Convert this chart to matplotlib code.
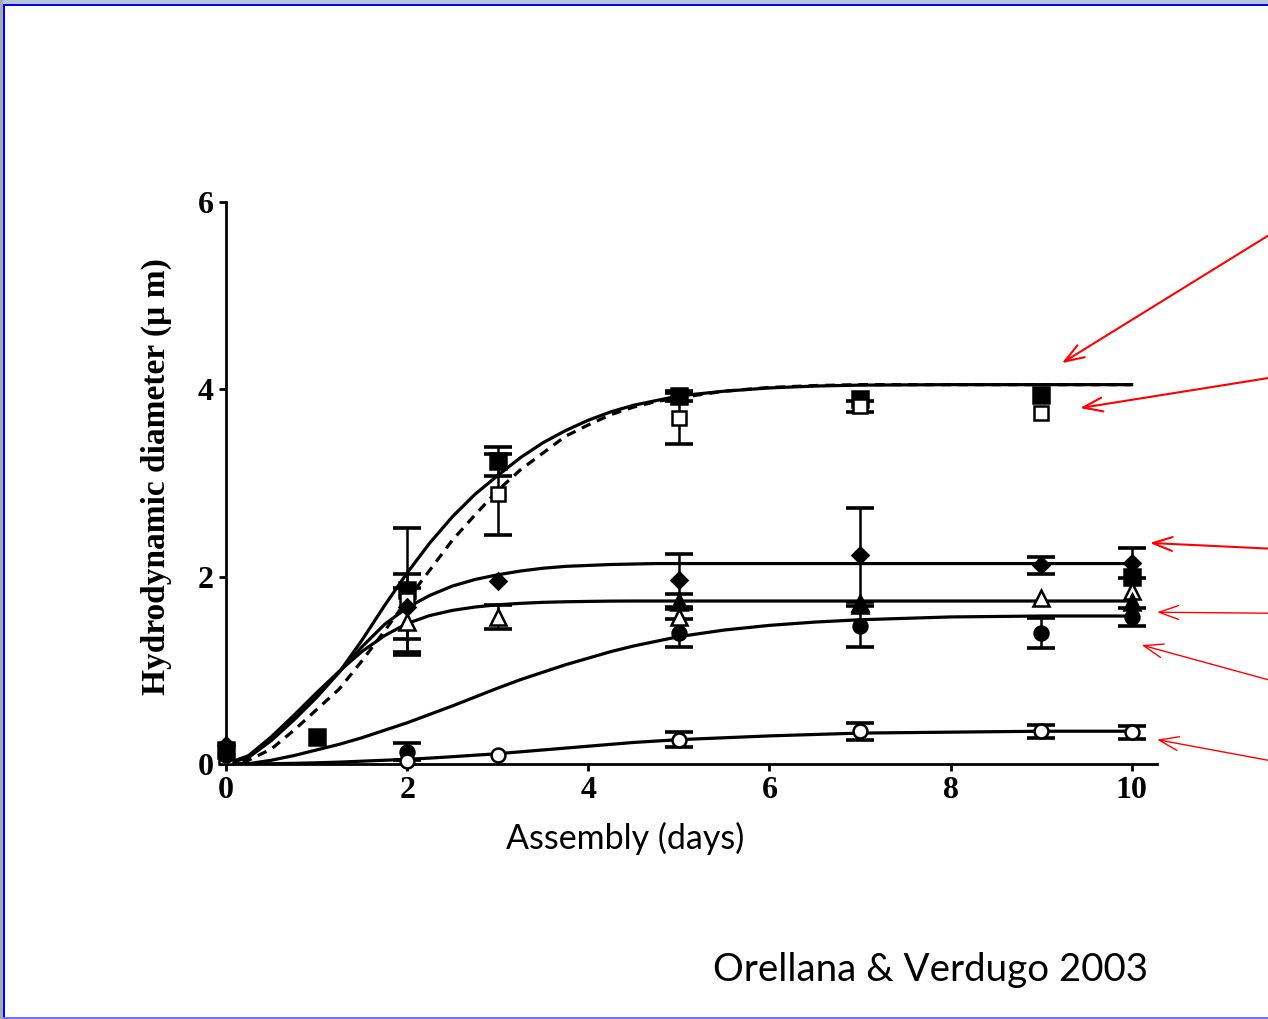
import numpy as np
import matplotlib
matplotlib.use('Agg')
import matplotlib.pyplot as plt
from matplotlib.patches import Rectangle

# fitted curves
curve_days = [0, 0.25, 0.5, 0.75, 1, 1.25, 1.5, 1.75, 2, 2.25, 2.5, 2.75, 3,
              3.25, 3.5, 3.75, 4, 4.25, 4.5, 4.75, 5, 5.5, 6, 6.5, 7, 8, 9, 10]
fit_sq_filled = [0, 0.07, 0.25, 0.47, 0.71, 0.98, 1.32, 1.69, 2.04, 2.36, 2.64,
                 2.88, 3.08, 3.27, 3.43, 3.56, 3.67, 3.76, 3.83, 3.88, 3.93,
                 3.98, 4.015, 4.035, 4.045, 4.05, 4.05, 4.05]
fit_sq_open = [0, 0.04, 0.16, 0.36, 0.58, 0.80, 1.10, 1.42, 1.75, 2.07, 2.39,
               2.66, 2.92, 3.14, 3.32, 3.50, 3.62, 3.73, 3.81, 3.87, 3.91,
               3.98, 4.02, 4.04, 4.05, 4.05, 4.05, 4.05]
fit_diamond = [0, 0.08, 0.27, 0.50, 0.74, 0.98, 1.25, 1.49, 1.67, 1.80, 1.90,
               1.97, 2.02, 2.06, 2.09, 2.11, 2.12, 2.13, 2.135, 2.14, 2.14,
               2.14, 2.14, 2.14, 2.14, 2.14, 2.14, 2.14]
fit_triangle = [0, 0.09, 0.29, 0.52, 0.76, 0.99, 1.20, 1.37, 1.50, 1.585, 1.64,
                1.676, 1.70, 1.715, 1.726, 1.732, 1.736, 1.739, 1.74, 1.74, 1.74,
                1.74, 1.74, 1.74, 1.74, 1.74, 1.74, 1.74]
fit_circle = [0, 0.003, 0.04, 0.09, 0.15, 0.21, 0.28, 0.36, 0.44, 0.53, 0.62,
              0.715, 0.81, 0.90, 0.98, 1.06, 1.13, 1.20, 1.26, 1.31, 1.36,
              1.43, 1.48, 1.515, 1.54, 1.57, 1.58, 1.58]
fit_circle_open = [0, 0.001, 0.003, 0.007, 0.013, 0.02, 0.03, 0.04, 0.05,
                   0.063, 0.078, 0.094, 0.11, 0.13, 0.15, 0.17, 0.19, 0.21,
                   0.23, 0.245, 0.26, 0.28, 0.30, 0.315, 0.33, 0.34, 0.35, 0.35]

# measured points (day, mean, error)
sq_filled_days = [0, 1, 2, 3, 5, 7, 9, 10]
sq_filled = [0.15, 0.29, 1.86, 3.23, 3.93, 3.90, 3.94, 2.0]
sq_filled_err = [0, 0, 0.66, 0.15, 0.05, 0, 0, 0]

sq_open_days = [0, 2, 3, 5, 7, 9]
sq_open = [0.08, 1.75, 2.88, 3.69, 3.82, 3.75]
sq_open_err = [0, 0, 0.43, 0.27, 0.06, 0]

diamond_days = [0, 2, 3, 5, 7, 9, 10]
diamond = [0.2, 1.68, 1.95, 1.96, 2.23, 2.12, 2.15]
diamond_err = [0, 0.35, 0, 0.28, 0.5, 0.09, 0.16]

tri_open_days = [2, 3, 5, 7, 9, 10]
tri_open = [1.52, 1.57, 1.57, 1.70, 1.77, 1.85]
tri_open_err = [0.36, 0.13, 0, 0, 0, 0]

tri_filled_days = [5, 7, 10]
tri_filled = [1.73, 1.72, 1.73]
tri_filled_err = [0.08, 0, 0]

circ_filled_days = [0, 2, 5, 7, 9, 10]
circ_filled = [0.1, 0.13, 1.40, 1.47, 1.40, 1.57]
circ_filled_err = [0, 0.09, 0.15, 0.22, 0.16, 0.1]

circ_open_days = [2, 3, 5, 7, 9, 10]
circ_open = [0.03, 0.10, 0.26, 0.35, 0.35, 0.34]
circ_open_err = [0, 0, 0.08, 0.09, 0.07, 0.07]

# arrows: target day, target value, start value at the right edge, width
arrow_day = [9.23, 9.43, 10.2, 10.28, 10.11, 10.28]
arrow_val = [4.28, 3.80, 2.36, 1.62, 1.27, 0.26]
arrow_start = [5.64, 4.12, 2.30, 1.61, 0.90, 0.04]
arrow_lw = [1.5, 1.5, 1.5, 1.0, 1.0, 1.0]

W, H = 1268, 1019
fig = plt.figure(figsize=(W / 100, H / 100), dpi=100)
fig.patch.set_facecolor('white')

# slide frame
fig.add_artist(Rectangle((0, 1 - 4 / H), 1, 4 / H, transform=fig.transFigure,
                         facecolor='#b9c6da', edgecolor='none'))
fig.add_artist(Rectangle((0, 0), 3 / W, 1, transform=fig.transFigure,
                         facecolor='#a9a9b0', edgecolor='none'))
fig.add_artist(Rectangle((3 / W, 0), 2 / W, 1 - 4 / H, transform=fig.transFigure,
                         facecolor='#0000ff', edgecolor='none'))
fig.add_artist(Rectangle((3 / W, 1 - 6 / H), 1, 2 / H, transform=fig.transFigure,
                         facecolor='#0000ff', edgecolor='none'))
fig.add_artist(Rectangle((3 / W, 0), 1, 2 / H, transform=fig.transFigure,
                         facecolor='#7070ff', edgecolor='none'))

ax = fig.add_axes([226 / W, 1 - 764 / H, 931 / W, 562 / H])
ax.set_xlim(0, 10.28)
ax.set_ylim(0, 6)

lw = 2.3
ax.plot(curve_days, fit_sq_filled, color='black', lw=lw)
ax.plot(curve_days, fit_sq_open, color='black', lw=lw, ls=(0, (3, 2.2)))
ax.plot(curve_days, fit_diamond, color='black', lw=lw)
ax.plot(curve_days, fit_triangle, color='black', lw=lw)
ax.plot(curve_days, fit_circle, color='black', lw=lw)
ax.plot(curve_days, fit_circle_open, color='black', lw=lw)

series = [
    (sq_filled_days, sq_filled, sq_filled_err, 's', 'black', 11),
    (sq_open_days, sq_open, sq_open_err, 's', 'white', 10),
    (diamond_days, diamond, diamond_err, 'D', 'black', 8),
    (tri_open_days, tri_open, tri_open_err, '^', 'white', 11),
    (tri_filled_days, tri_filled, tri_filled_err, '^', 'black', 11),
    (circ_filled_days, circ_filled, circ_filled_err, 'o', 'black', 10),
    (circ_open_days, circ_open, circ_open_err, 'o', 'white', 10),
]
for days, vals, errs, mk, fc, ms in series:
    d = np.array(days, dtype=float)
    v = np.array(vals)
    e = np.array(errs)
    has = e > 0
    ax.errorbar(d[has], v[has], yerr=e[has], fmt='none', ecolor='black',
                elinewidth=1.8, capsize=10, capthick=2.6, clip_on=False)
    ax.plot(d, v, ls='none', marker=mk, ms=ms, mfc=fc, mec='black', mew=1.8,
            clip_on=False, zorder=4)

for sp in ['top', 'right']:
    ax.spines[sp].set_visible(False)
for sp in ['left', 'bottom']:
    ax.spines[sp].set_linewidth(2)

ax.set_xticks([0, 2, 4, 6, 8, 10])
ax.set_yticks([0, 2, 4, 6])
ax.tick_params(direction='out', length=5, width=2, pad=4)
for lab in ax.get_xticklabels() + ax.get_yticklabels():
    lab.set_fontfamily('Liberation Serif')
    lab.set_fontweight('bold')
    lab.set_fontsize(23)

ax.set_ylabel('Hydrodynamic diameter (\u00b5 m)', fontfamily='Liberation Serif',
              fontweight='bold', fontsize=24)
ax.yaxis.set_label_coords(-0.058, 0.512)
ax.set_xlabel('Assembly (days)', fontfamily='Lato', fontsize=24.5)
ax.xaxis.set_label_coords(0.4286, -0.103)

for xd, yd, ys, w in zip(arrow_day, arrow_val, arrow_start, arrow_lw):
    ax.annotate('', xy=(xd, yd), xycoords='data',
                xytext=(1.0, ys), textcoords=('figure fraction', 'data'),
                arrowprops=dict(arrowstyle='->,head_length=1.4,head_width=0.5',
                                color='red', lw=w, shrinkA=0, shrinkB=0),
                annotation_clip=False)

fig.text(713 / W, 1 - 970 / H, 'Orellana & Verdugo 2003', fontfamily='Lato',
         fontsize=27.7, ha='left', va='center')

plt.savefig('out.png', dpi=100)
